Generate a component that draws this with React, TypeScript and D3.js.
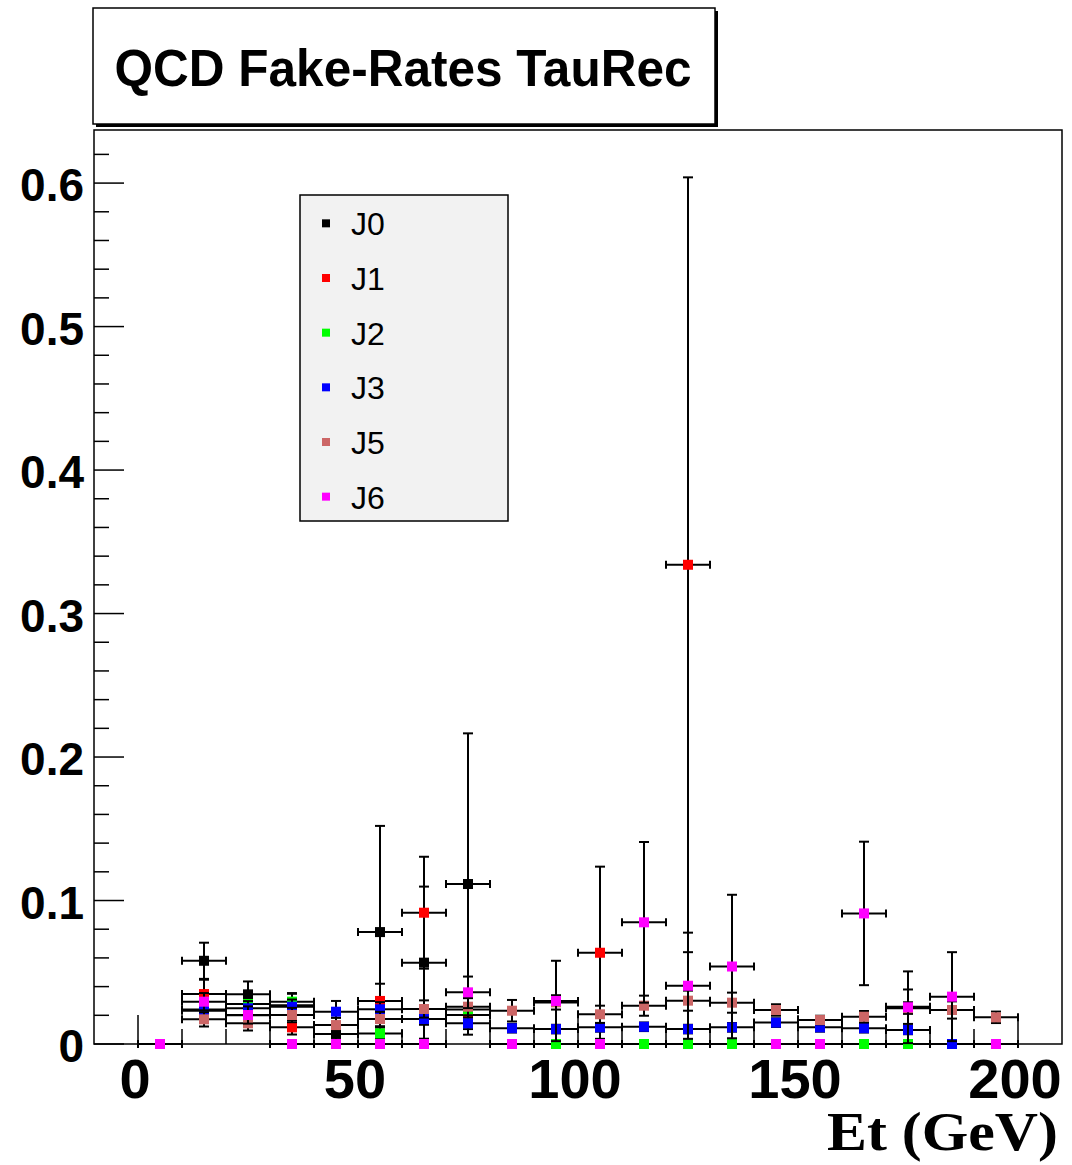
import React from "react";
import * as d3 from "d3";

const binCenters = [5, 15, 25, 35, 45, 55, 65, 75, 85, 95, 105, 115, 125, 135, 145, 155, 165, 175, 185, 195];
const binHalfWidth = 5;

const seriesNames = ["J0", "J1", "J2", "J3", "J5", "J6"];
const seriesColors = ["#000000", "#ff0000", "#00ff00", "#0000ff", "#cc6666", "#ff00ff"];

const j0Values = [0, 0.058, 0.0346, 0.027, 0.007, 0.078, 0.0567, 0.1115, 0, 0, 0, 0, 0, 0, 0, 0, 0, 0.026, 0, 0];
const j0Errors = [0, 0.0126, 0.009, 0.008, 0.006, 0.074, 0.053, 0.105, 0, 0, 0, 0, 0, 0, 0, 0, 0, 0.012, 0, 0];
const j1Values = [0, 0.0348, 0.02, 0.0116, 0, 0.03, 0.0915, 0.0202, 0, 0, 0.0636, 0, 0.334, 0, 0, 0, 0, 0, 0, 0];
const j1Errors = [0, 0.01, 0.008, 0.005, 0, 0.012, 0.039, 0.008, 0, 0, 0.06, 0, 0.27, 0, 0, 0, 0, 0, 0, 0];
const j2Values = [0, 0.024, 0.0279, 0.0295, 0, 0.0074, 0, 0.024, 0, 0, 0, 0, 0, 0, 0, 0, 0, 0, 0, 0];
const j2Errors = [0, 0.008, 0.008, 0.006, 0, 0.004, 0, 0.008, 0, 0, 0, 0, 0, 0, 0, 0, 0, 0, 0, 0];
const j3Values = [0, 0.0232, 0.0249, 0.026, 0.0225, 0.0242, 0.0174, 0.0144, 0.011, 0.0104, 0.0116, 0.012, 0.0104, 0.0116, 0.0149, 0.0116, 0.011, 0.0098, 0, 0];
const j3Errors = [0, 0.005, 0.005, 0.005, 0.0075, 0.005, 0.004, 0.004, 0.003, 0.003, 0.003, 0.003, 0.003, 0.003, 0.003, 0.003, 0.003, 0.003, 0, 0];
const j5Values = [0, 0.0172, 0.0144, 0.0202, 0.0132, 0.0174, 0.0244, 0.026, 0.0232, 0.029, 0.0207, 0.0267, 0.0302, 0.0288, 0.0237, 0.0167, 0.019, 0.025, 0.0237, 0.0186];
const j5Errors = [0, 0.005, 0.005, 0.005, 0.005, 0.005, 0.006, 0.006, 0.0075, 0.005, 0.006, 0.007, 0.007, 0.007, 0.004, 0.003, 0.004, 0.004, 0.006, 0.004];
const j6Values = [0, 0.0295, 0.0202, 0, 0, 0, 0, 0.036, 0, 0.03, 0, 0.0848, 0.0406, 0.054, 0, 0, 0.091, 0.0256, 0.033, 0];
const j6Errors = [0, 0.006, 0.006, 0, 0, 0, 0, 0.011, 0, 0.028, 0, 0.056, 0.037, 0.05, 0, 0, 0.05, 0.025, 0.031, 0];

const allValues = [j0Values, j1Values, j2Values, j3Values, j5Values, j6Values];
const allErrors = [j0Errors, j1Errors, j2Errors, j3Errors, j5Errors, j6Errors];

const xMajorTicks = [0, 50, 100, 150, 200];
const yMajorTicks = [0, 0.1, 0.2, 0.3, 0.4, 0.5, 0.6];
const yTickLabels = ["0", "0.1", "0.2", "0.3", "0.4", "0.5", "0.6"];

const titleText = "QCD Fake-Rates TauRec";
const xAxisTitle = "Et (GeV)";

export default function App() {
  const W = 1072, H = 1165;
  const frame = { left: 94, right: 1062, top: 130, bottom: 1044 };
  const x = d3.scaleLinear().domain([-10, 210]).range([frame.left, frame.right]);
  const y = d3.scaleLinear().domain([0, 0.637]).range([frame.bottom, frame.top]);

  const xMinor = d3.range(0, 201, 10);
  const yMinor = d3.range(0, 0.63, 0.02);

  const sans = "'Liberation Sans', Arial, Helvetica, sans-serif";
  const serif = "'Liberation Serif', 'Times New Roman', serif";
  const ms = 10;
  const capV = 5;
  const capH = 4;

  const legendBox = { x: 300, y: 195, w: 208, h: 326 };
  const legendRow = d3.scaleBand().domain(seriesNames).range([196, 524]);

  return (
    <svg width={W} height={H} style={{ position: "absolute", left: 0, top: 0, background: "#fff" }}>
      <rect x={0} y={0} width={W} height={H} fill="#fff" />
      {/* title box with shadow */}
      <rect x={96} y={11} width={622} height={116} fill="#000" />
      <rect x={93} y={8} width={622} height={116} fill="#fff" stroke="#000" strokeWidth={1.5} />
      <text x={403} y={86} textAnchor="middle" fontFamily={sans} fontWeight="bold" fontSize={52}
        textLength={577} lengthAdjust="spacingAndGlyphs">{titleText}</text>

      {/* frame */}
      <rect x={frame.left} y={frame.top} width={frame.right - frame.left} height={frame.bottom - frame.top}
        fill="none" stroke="#000" strokeWidth={1.5} />

      {/* x ticks */}
      {xMinor.map((v) => (
        <line key={"xm" + v} x1={x(v)} x2={x(v)} y1={frame.bottom}
          y2={frame.bottom - (v % 50 === 0 ? 29 : 15)} stroke="#000" strokeWidth={1.5} />
      ))}
      {xMajorTicks.map((v) => (
        <text key={"xl" + v} x={x(v) - 3} y={1098} textAnchor="middle" fontFamily={sans} fontWeight="bold"
          fontSize={56}>{String(v)}</text>
      ))}
      <text x={1058} y={1150} textAnchor="end" fontFamily={serif} fontWeight="bold" fontSize={55}
        textLength={231} lengthAdjust="spacingAndGlyphs">{xAxisTitle}</text>

      {/* y ticks */}
      {yMinor.map((v, i) => (
        <line key={"ym" + i} x1={frame.left} x2={frame.left + (i % 5 === 0 ? 30 : 15)} y1={y(v)} y2={y(v)}
          stroke="#000" strokeWidth={1.5} />
      ))}
      {yMajorTicks.map((v, i) => (
        <text key={"yl" + i} x={84} y={y(v) + 18} textAnchor="end" fontFamily={sans} fontWeight="bold"
          fontSize={46}>{yTickLabels[i]}</text>
      ))}

      {/* data */}
      {seriesNames.map((name, si) => (
        <g key={name}>
          {binCenters.map((c, bi) => {
            const v = allValues[si][bi];
            const e = allErrors[si][bi];
            const cx = x(c), cy = y(v);
            const xl = x(c - binHalfWidth), xr = x(c + binHalfWidth);
            const yt = y(Math.min(v + e, 0.637)), yb = y(Math.max(v - e, 0));
            return (
              <g key={bi} stroke="#000" strokeWidth={2}>
                <line x1={xl} x2={xr} y1={cy} y2={cy} />
                <line x1={xl} x2={xl} y1={cy - capH} y2={cy + capH} />
                <line x1={xr} x2={xr} y1={cy - capH} y2={cy + capH} />
                {e > 0 && (
                  <>
                    <line x1={cx} x2={cx} y1={yt} y2={yb} />
                    <line x1={cx - capV} x2={cx + capV} y1={yt} y2={yt} />
                    <line x1={cx - capV} x2={cx + capV} y1={yb} y2={yb} />
                  </>
                )}
              </g>
            );
          })}
          {binCenters.map((c, bi) => (
            <rect key={"m" + bi} x={x(c) - ms / 2} y={y(allValues[si][bi]) - ms / 2} width={ms} height={ms}
              fill={seriesColors[si]} />
          ))}
        </g>
      ))}

      {/* legend */}
      <rect x={legendBox.x} y={legendBox.y} width={legendBox.w} height={legendBox.h} fill="#f2f2f2"
        stroke="#000" strokeWidth={1.5} />
      {seriesNames.map((name, si) => {
        const cy = (legendRow(name) as number) + legendRow.bandwidth() / 2;
        return (
          <g key={"lg" + name}>
            <rect x={322} y={cy - 4} width={8} height={8} fill={seriesColors[si]} />
            <text x={351} y={cy + 12} fontFamily={sans} fontSize={32}>{name}</text>
          </g>
        );
      })}
    </svg>
  );
}
